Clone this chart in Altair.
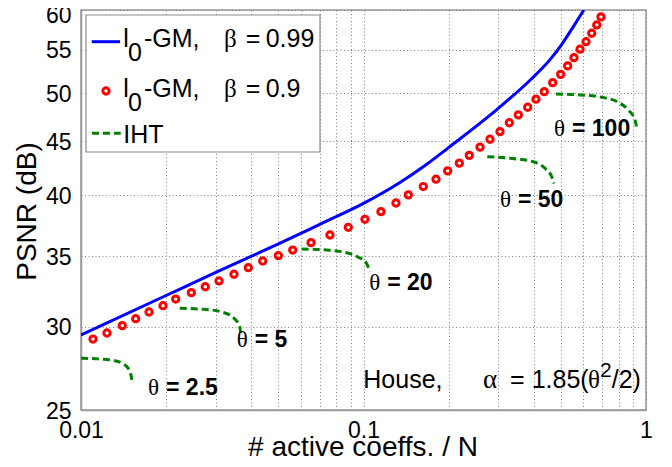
import altair as alt
import pandas as pd

# ---------------- data ----------------
blue_x = [0.01, 0.02, 0.03, 0.04, 0.05, 0.07, 0.1, 0.1346, 0.1651, 0.2, 0.3, 0.3886, 0.4574, 0.5042, 0.5561, 0.6025]
blue_y = [29.46, 32.12, 33.78, 34.99, 35.96, 37.53, 39.29, 41.13, 42.69, 44.40, 48.38, 51.45, 53.82, 55.69, 57.99, 60.0]

red_x = [0.01103, 0.01236, 0.01400, 0.01562, 0.01741, 0.01951, 0.02164, 0.02458, 0.02754, 0.03081,
         0.03480, 0.03911, 0.04398, 0.04995, 0.05616, 0.06521, 0.07609, 0.08835, 0.1012, 0.1153,
         0.1303, 0.1441, 0.1628, 0.1806, 0.1986, 0.2184, 0.2369, 0.2585, 0.2804, 0.3042,
         0.3282, 0.3532, 0.3813, 0.4078, 0.4365, 0.4674, 0.4989, 0.5283, 0.5561, 0.5841,
         0.6133, 0.6426, 0.6693, 0.6929]
red_y = [29.20, 29.59, 30.07, 30.53, 30.98, 31.41, 31.87, 32.32, 32.74, 33.16,
         33.65, 34.14, 34.64, 35.05, 35.48, 36.06, 36.67, 37.29, 37.95, 38.59,
         39.33, 40.03, 40.77, 41.43, 42.19, 42.91, 43.65, 44.44, 45.22, 45.98,
         46.88, 47.69, 48.50, 49.36, 50.18, 51.18, 52.12, 53.09, 54.06, 55.07,
         55.98, 57.02, 58.07, 59.10]

iht_t25_x = [0.01, 0.01148, 0.01298, 0.01408, 0.01467, 0.01507, 0.01515]
iht_t25_y = [28.0, 27.96, 27.86, 27.66, 27.40, 26.90, 26.47]
iht_t5_x = [0.02236, 0.0274, 0.03138, 0.03451, 0.03646, 0.03675]
iht_t5_y = [31.23, 31.16, 30.99, 30.62, 30.0, 29.57]
iht_t20_x = [0.06043, 0.07406, 0.0872, 0.09585, 0.1021, 0.1054]
iht_t20_y = [35.56, 35.48, 35.27, 34.93, 34.52, 33.84]
iht_t50_x = [0.2743, 0.33, 0.399, 0.439, 0.4637, 0.4724]
iht_t50_y = [43.52, 43.37, 43.04, 42.43, 41.65, 41.05]
iht_t100_x = [0.4802, 0.5841, 0.6969, 0.798, 0.8655, 0.9145, 0.9272]
iht_t100_y = [49.93, 49.82, 49.57, 49.03, 48.21, 47.15, 46.30]

theta_values = ["2.5", "5", "20", "50", "100"]
theta_label_x = [0.01727, 0.03557, 0.1048, 0.3042, 0.4724]
theta_label_y = [25.84, 28.72, 32.51, 39.01, 45.54]

x_grid = [0.01, 0.02, 0.03, 0.04, 0.05, 0.06, 0.07, 0.08, 0.09,
          0.1, 0.2, 0.3, 0.4, 0.5, 0.6, 0.7, 0.8, 0.9, 1]
x_labeled = [0.01, 0.1, 1]
y_ticks = [25, 30, 35, 40, 45, 50, 55, 60]

# ---------------- tables ----------------
blue_df = pd.DataFrame({"x": blue_x, "y": blue_y})
red_df = pd.DataFrame({"x": red_x, "y": red_y})
iht_parts = []
for th, xs_, ys_ in zip(theta_values,
                        [iht_t25_x, iht_t5_x, iht_t20_x, iht_t50_x, iht_t100_x],
                        [iht_t25_y, iht_t5_y, iht_t20_y, iht_t50_y, iht_t100_y]):
    iht_parts.append(pd.DataFrame({"x": xs_, "y": ys_, "theta": th, "i": range(len(xs_))}))
iht_df = pd.concat(iht_parts, ignore_index=True)
lab_df = pd.DataFrame({"x": theta_label_x, "y": theta_label_y,
                       "txt": ["= " + t for t in theta_values]})
dummy = pd.DataFrame({"a": [0]})

SANS = "Liberation Sans"
SERIF = "Liberation Serif"
BLUE = "#0000FF"
RED = "#FF0000"
GREEN = "#008000"

xs = alt.Scale(type="log", domain=[0.01, 1], nice=False)
ys = alt.Scale(type="log", domain=[25, 60], nice=False)

x_axis = alt.Axis(
    values=x_grid, format="~g",
    labelExpr="indexof(" + str(x_labeled) + ", datum.value) >= 0 ? datum.label : ''",
    title="# active coeffs. / N", titleFont=SANS, titleFontSize=28, titleFontWeight="normal",
    titleColor="black", titleBaseline="alphabetic", titleY=45, titleX=281.5, titleAlign="center",
    labelFont=SANS, labelFontSize=23, labelColor="black", labelPadding=9,
    labelFlush=False, labelOverlap=False, ticks=False, tickSize=0,
    grid=True, gridDash=[1, 2.5], gridColor="#808080", gridWidth=1,
    domainColor="#999999", domainWidth=1.5,
)
y_axis = alt.Axis(
    values=y_ticks, format="d",
    title="PSNR (dB)", titleFont=SANS, titleFontSize=28, titleFontWeight="normal",
    titleColor="black", titleBaseline="alphabetic", titleX=-46, titleY=201, titleAlign="center",
    titleAngle=270,
    labelFont=SANS, labelFontSize=23, labelColor="black", labelPadding=10,
    labelOffset={"condition": {"test": "datum.value == 60", "value": 5}, "value": 1},
    labelFlush=False, labelOverlap=False, ticks=False, tickSize=0,
    grid=True, gridDash=[1, 2.5], gridColor="#808080", gridWidth=1,
    domainColor="#999999", domainWidth=1.5,
)

X = alt.X("x:Q", scale=xs, axis=x_axis)
Y = alt.Y("y:Q", scale=ys, axis=y_axis)

blue = alt.Chart(blue_df).mark_line(color=BLUE, strokeWidth=3, interpolate="monotone", clip=True).encode(
    x=X, y=Y)
red = alt.Chart(red_df).mark_point(shape="circle", filled=False, color=RED, strokeWidth=3,
                                   size=40, opacity=1, clip=True).encode(x=X, y=Y)
iht = alt.Chart(iht_df).mark_line(color=GREEN, strokeWidth=3, strokeDash=[7, 4],
                                  interpolate="monotone", clip=True).encode(
    x=X, y=Y, detail="theta:N", order="i:Q")
lab_theta = alt.Chart(lab_df).mark_text(text="θ", font=SERIF, fontSize=23, align="left",
                                        baseline="alphabetic", color="black").encode(x=X, y=Y)
lab_val = alt.Chart(lab_df).mark_text(font=SANS, fontSize=23, fontWeight="bold", align="left",
                                      baseline="alphabetic", dx=18, color="black").encode(
    x=X, y=Y, text="txt:N")


def txt(s, x, y, size, font=SANS, weight="normal", align="left"):
    return alt.Chart(dummy).mark_text(text=s, font=font, fontSize=size, fontWeight=weight,
                                      align=align, baseline="alphabetic", color="black").encode(
        x=alt.value(x), y=alt.value(y))


# legend (drawn by hand like the MATLAB box)
leg_box = alt.Chart(dummy).mark_rect(fill="white", stroke="#8c8c8c", strokeWidth=1.2).encode(
    x=alt.value(5), x2=alt.value(239), y=alt.value(5), y2=alt.value(142))
leg_blue = alt.Chart(dummy).mark_rule(color=BLUE, strokeWidth=3).encode(
    x=alt.value(10.7), x2=alt.value(39), y=alt.value(31.7))
leg_red = alt.Chart(dummy).mark_point(shape="circle", filled=False, color=RED, strokeWidth=3,
                                      size=40, opacity=1).encode(x=alt.value(25), y=alt.value(81))
leg_green = alt.Chart(dummy).mark_rule(color=GREEN, strokeWidth=3, strokeDash=[7, 4]).encode(
    x=alt.value(11), x2=alt.value(39.7), y=alt.value(123.3))

legend_texts = []
for base, val in [(36.7, "0.99"), (86.7, "0.9")]:
    legend_texts += [
        txt("l", 42.3, base, 25),
        txt("0", 47, base + 14, 25),
        txt("-GM,", 63, base, 25),
        txt("β", 143, base, 25, font=SERIF),
        txt("=", 164.7, base, 25),
        txt(val, 184.7, base, 25),
    ]
legend_texts.append(txt("IHT", 42.3, 133.3, 25))

house = [
    txt("House,", 282.3, 378.3, 25),
    txt("α", 402, 378.3, 27, font=SERIF),
    txt("=", 429, 378.3, 25),
    txt("1.85(", 450.7, 378.3, 25),
    txt("θ", 507, 378.3, 25, font=SERIF),
    txt("2", 519, 366.7, 21),
    txt("/2)", 530.7, 378.3, 25),
]

chart = alt.layer(
    blue, red, iht, lab_theta, lab_val, *house,
    leg_box, leg_blue, leg_red, leg_green, *legend_texts,
).properties(
    width=565, height=400,
    padding={"left": 73, "top": 2, "right": 16, "bottom": 49},
    autosize=alt.AutoSizeParams(type="none"),
    background="white",
).configure_view(stroke="#999999", strokeWidth=1.5)

chart.save("out.html", embed_options={"renderer": "svg", "actions": False})
